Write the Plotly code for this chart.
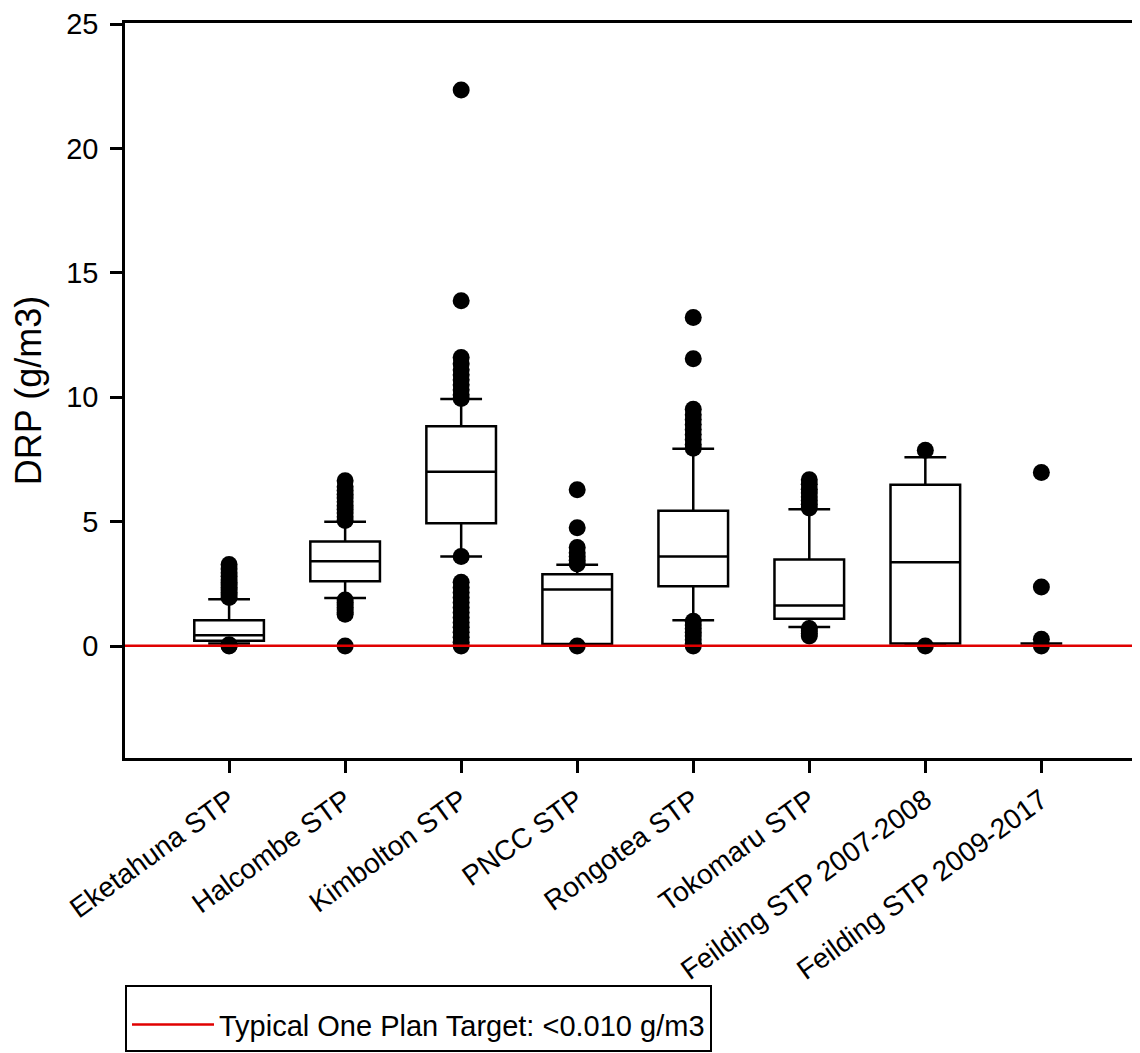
import plotly.graph_objects as go

categories = ["Eketahuna STP", "Halcombe STP", "Kimbolton STP", "PNCC STP",
              "Rongotea STP", "Tokomaru STP", "Feilding STP 2007-2008",
              "Feilding STP 2009-2017"]

q1 = [0.21, 2.60, 4.93, 0.08, 2.40, 1.10, 0.10, 0.10]
median = [0.43, 3.41, 7.00, 2.27, 3.60, 1.63, 3.37, 0.10]
q3 = [1.04, 4.20, 8.83, 2.88, 5.44, 3.48, 6.48, 0.10]
lowerfence = [0.10, 1.93, 3.60, 0.02, 1.04, 0.76, 0.05, 0.10]
upperfence = [1.88, 5.00, 9.93, 3.27, 7.93, 5.50, 7.59, 0.10]

outliers = {
    "Eketahuna STP": [0.0, 0.02, 0.05, 1.95, 2.05, 2.15, 2.25, 2.35, 2.45,
                      2.55, 2.65, 2.8, 2.95, 3.1, 3.28],
    "Halcombe STP": [0.0, 1.28, 1.35, 1.45, 1.55, 1.65, 1.75, 1.85, 5.05,
                     5.2, 5.35, 5.5, 5.65, 5.8, 5.95, 6.1, 6.25, 6.4, 6.64],
    "Kimbolton STP": [0.0, 0.15, 0.35, 0.55, 0.75, 0.95, 1.15, 1.35, 1.55,
                      1.75, 1.95, 2.15, 2.35, 2.56, 3.6, 9.95, 10.1, 10.3,
                      10.5, 10.7, 10.9, 11.1, 11.35, 11.6, 13.88, 22.35],
    "PNCC STP": [0.0, 3.3, 3.45, 3.6, 3.75, 3.96, 4.75, 6.28],
    "Rongotea STP": [0.0, 0.1, 0.25, 0.4, 0.55, 0.7, 0.85, 1.0, 7.95, 8.1,
                     8.3, 8.5, 8.7, 8.9, 9.1, 9.3, 9.52, 11.55, 13.2],
    "Tokomaru STP": [0.4, 0.5, 0.6, 0.7, 5.55, 5.7, 5.85, 6.0, 6.15, 6.3,
                     6.5, 6.68],
    "Feilding STP 2007-2008": [0.0, 7.87],
    "Feilding STP 2009-2017": [0.0, 0.27, 2.37, 6.97],
}

target_value = 0.01
target_label = "Typical One Plan Target: <0.010 g/m3"
y_ticks = [0, 5, 10, 15, 20, 25]

FONT = "Liberation Sans, Arial, sans-serif"

fig = go.Figure()

n_main = 7
fig.add_trace(go.Box(
    x=categories[:n_main], q1=q1[:n_main], median=median[:n_main],
    q3=q3[:n_main], lowerfence=lowerfence[:n_main],
    upperfence=upperfence[:n_main], boxpoints=False,
    line=dict(color="black", width=2.5), fillcolor="rgba(0,0,0,0)",
    width=0.6, whiskerwidth=0.6, showlegend=False, hoverinfo="skip"))

fig.add_trace(go.Box(
    x=categories[n_main:], q1=q1[n_main:], median=median[n_main:],
    q3=q3[n_main:], lowerfence=lowerfence[n_main:],
    upperfence=upperfence[n_main:], boxpoints=False,
    line=dict(color="black", width=2.5), fillcolor="rgba(0,0,0,0)",
    width=0.36, whiskerwidth=1, showlegend=False, hoverinfo="skip"))

ox, oy = [], []
for c in categories:
    ox += [c] * len(outliers[c])
    oy += outliers[c]
fig.add_trace(go.Scatter(x=ox, y=oy, mode="markers",
                         marker=dict(color="black", size=17),
                         showlegend=False, hoverinfo="skip"))

fig.add_shape(type="line", xref="paper", x0=0, x1=1, yref="y",
              y0=target_value, y1=target_value,
              line=dict(color="#e00000", width=2.5), layer="above")
fig.add_trace(go.Scatter(x=[None], y=[None], mode="lines",
                         line=dict(color="#e00000", width=2.5),
                         name=target_label, showlegend=True))

fig.update_layout(
    width=1132, height=1045,
    margin=dict(l=117, r=0, t=13, b=295),
    paper_bgcolor="white", plot_bgcolor="white",
    font=dict(family=FONT, color="black", size=28),
    legend=dict(x=0.0, xanchor="left", y=-0.3094, yanchor="top",
                bordercolor="black", borderwidth=2,
                font=dict(size=29, family=FONT),
                itemwidth=82,
                title=dict(text=" ", font=dict(size=9))),
)
fig.update_xaxes(type="category", categoryorder="array",
                 categoryarray=categories, range=[-0.897, 7.85],
                 showline=True, linecolor="black", linewidth=2.5, mirror=True,
                 ticks="outside", ticklen=12, tickwidth=2.5, tickcolor="black",
                 tickangle=-36, tickfont=dict(size=28), showgrid=False,
                 zeroline=False)
fig.update_yaxes(range=[-4.5, 25.04], tickvals=y_ticks,
                 showline=True, linecolor="black", linewidth=2.5, mirror=False,
                 ticks="outside", ticklen=12, tickwidth=2.5, tickcolor="black",
                 tickfont=dict(size=29), showgrid=False, zeroline=False,
                 ticklabelstandoff=6, ticklabeloverflow="allow",
                 title=dict(text="DRP (g/m3)", font=dict(size=36), standoff=16))

fig.write_html("out.html")
